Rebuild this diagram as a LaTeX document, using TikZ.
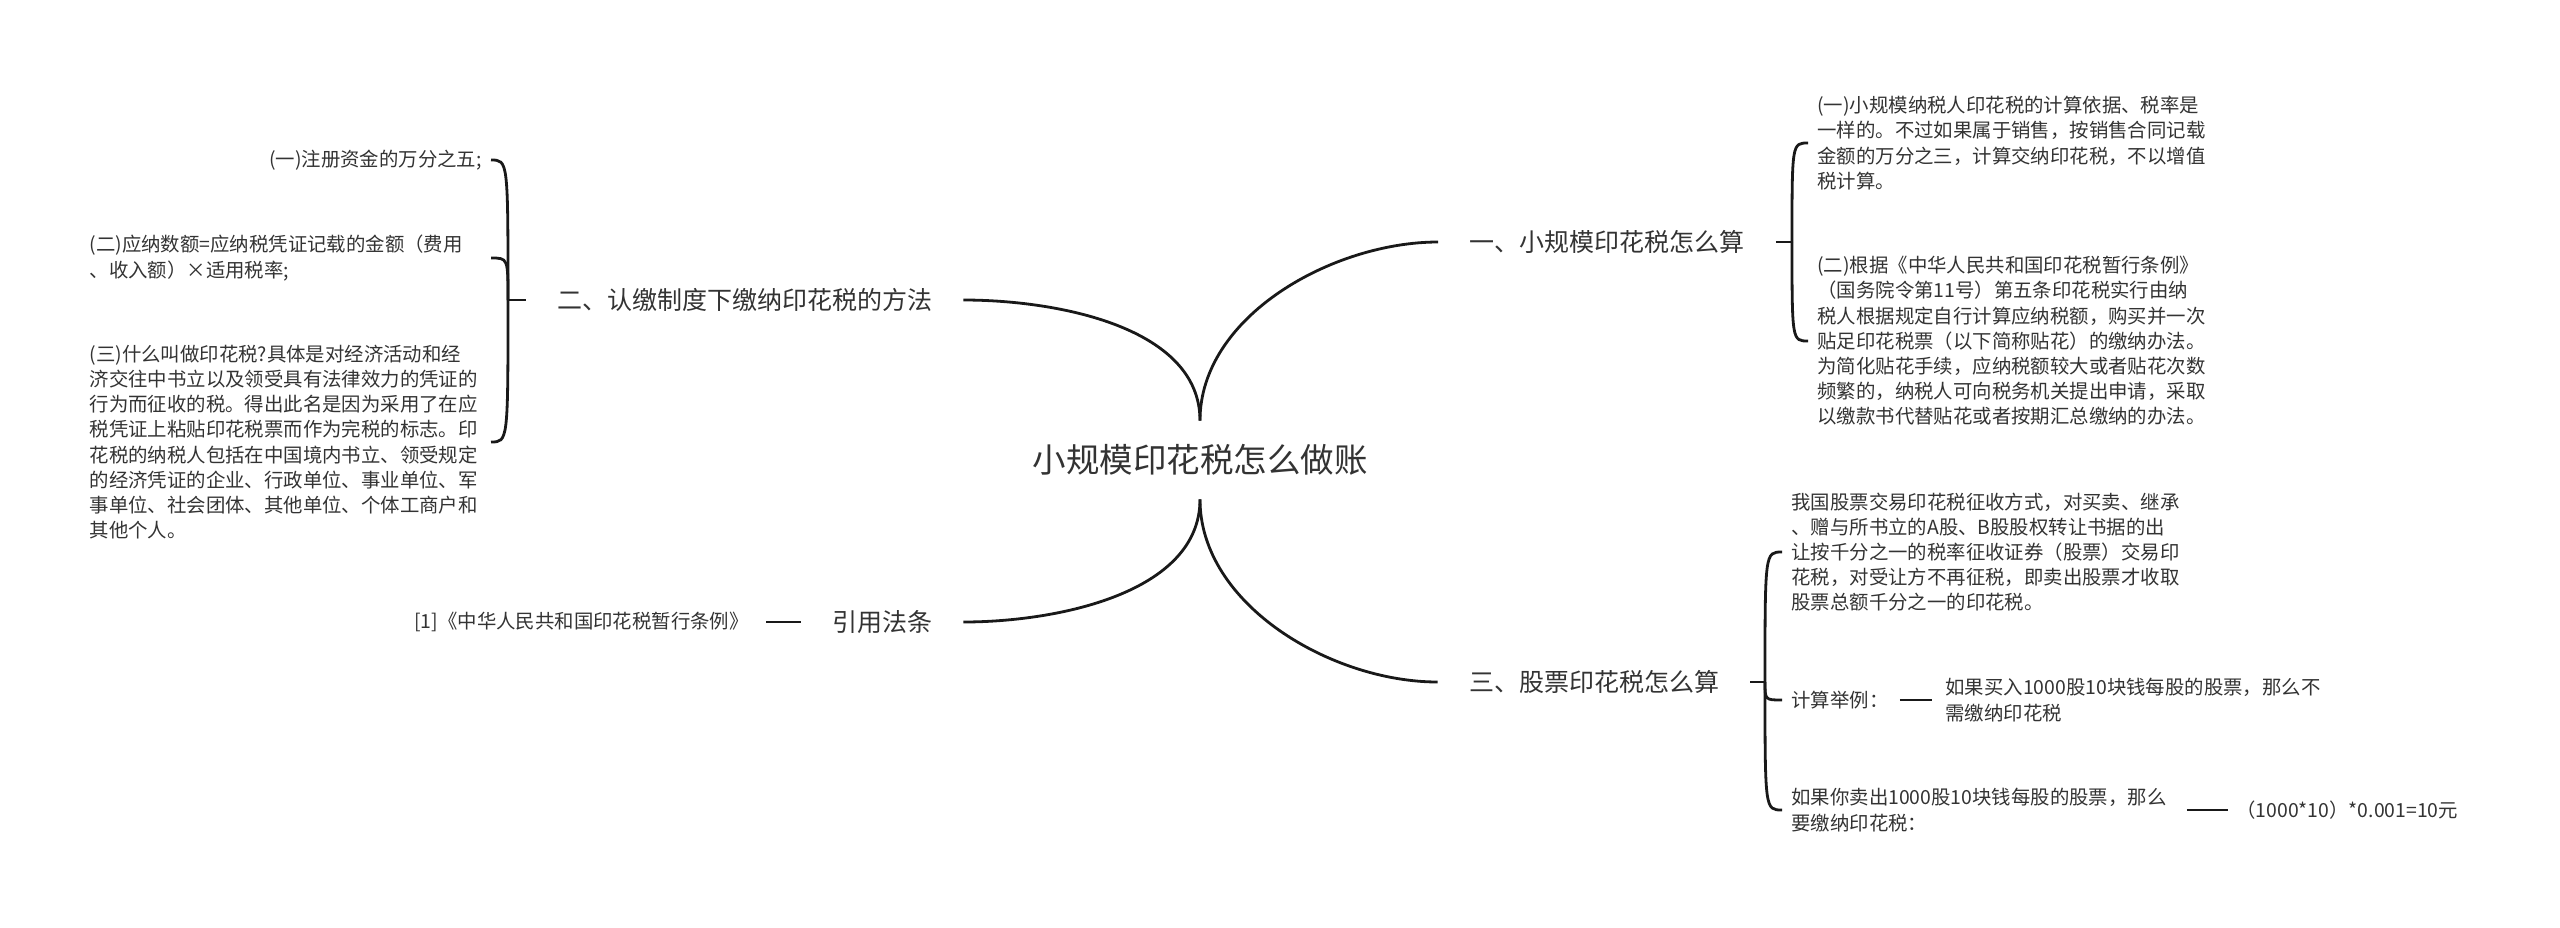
\documentclass[tikz,border=0pt]{standalone}
\usepackage{fontspec}
\setmainfont{Noto Sans CJK SC}
\definecolor{inkc}{HTML}{333333}
\begin{document}
\begin{tikzpicture}[x=0.5pt, y=-0.5pt]
        \tikzstyle{every node}=[inner sep=0pt, text=inkc]
        \tikzstyle{topic}=[font=\fontsize{16.75pt}{20pt}\selectfont, minimum height=39pt]
        \tikzstyle{branch}=[font=\fontsize{12.5pt}{15pt}\selectfont, inner xsep=15.5pt]
        \tikzstyle{leaf}=[font=\fontsize{9.7pt}{12.6pt}\selectfont, align=left]
        \tikzstyle{wide}=[leaf, text width=196pt]
        \tikzstyle{link}=[draw=black!90, line width=1.4pt]
        \useasboundingbox (0,0) rectangle (2560,927);
        \node [topic] (root) at (1200,460) {小规模印花税怎么做账};
        \node [branch] (b1) at (1607,242) {一、小规模印花税怎么算};
        \node [branch] (b2) at (744.5,300) {二、认缴制度下缴纳印花税的方法};
        \node [branch] (b3) at (1594,682) {三、股票印花税怎么算};
        \node [branch] (b4) at (882,622) {引用法条};
        \coordinate (b1j) at (1792,242);
        \coordinate (b2j) at (508,300);
        \coordinate (b3j) at (1765,682);
        \node [leaf, anchor=west] (l1a) at (1817,143) {(一)小规模纳税人印花税的计算依据、税率是\\一样的。不过如果属于销售，按销售合同记载\\金额的万分之三，计算交纳印花税，不以增值\\税计算。};
        \node [leaf, anchor=west] (l1b) at (1817,341) {(二)根据《中华人民共和国印花税暂行条例》\\（国务院令第11号）第五条印花税实行由纳\\税人根据规定自行计算应纳税额，购买并一次\\贴足印花税票（以下简称贴花）的缴纳办法。\\为简化贴花手续，应纳税额较大或者贴花次数\\频繁的，纳税人可向税务机关提出申请，采取\\以缴款书代替贴花或者按期汇总缴纳的办法。};
        \node [leaf, anchor=east] (l2a) at (482,160) {(一)注册资金的万分之五;};
        \node [wide, anchor=east] (l2b) at (482,258) {(二)应纳数额=应纳税凭证记载的金额（费用\\、收入额）×适用税率;};
        \node [wide, anchor=east] (l2c) at (482,442) {(三)什么叫做印花税?具体是对经济活动和经\\济交往中书立以及领受具有法律效力的凭证的\\行为而征收的税。得出此名是因为采用了在应\\税凭证上粘贴印花税票而作为完税的标志。印\\花税的纳税人包括在中国境内书立、领受规定\\的经济凭证的企业、行政单位、事业单位、军\\事单位、社会团体、其他单位、个体工商户和\\其他个人。};
        \node [leaf, anchor=west] (l3a) at (1791,552) {我国股票交易印花税征收方式，对买卖、继承\\、赠与所书立的A股、B股股权转让书据的出\\让按千分之一的税率征收证券（股票）交易印\\花税，对受让方不再征税，即卖出股票才收取\\股票总额千分之一的印花税。};
        \node [leaf, anchor=west] (l3b) at (1791,700) {计算举例：};
        \node [leaf, anchor=west] (l3b2) at (1945,700) {如果买入1000股10块钱每股的股票，那么不\\需缴纳印花税};
        \node [leaf, anchor=west] (l3c) at (1791,810) {如果你卖出1000股10块钱每股的股票，那么\\要缴纳印花税：};
        \node [leaf, anchor=west] (l3c2) at (2236,810) {（1000*10）*0.001=10元};
        \node [leaf, anchor=east] (l4) at (749,622) {[1]《中华人民共和国印花税暂行条例》};
        \draw [link] (root.north) to[out=90,in=180,looseness=0.9] (b1.west);
        \draw [link] (root.north) to[out=90,in=0,looseness=0.9] (b2.east);
        \draw [link] (root.south) to[out=-90,in=180,looseness=0.9] (b3.west);
        \draw [link] (root.south) to[out=-90,in=0,looseness=0.9] (b4.east);
        \draw [link] (b1.east) -- (b1j);
        \draw [link] (b2.west) -- (b2j);
        \draw [link] (b3.east) -- (b3j);
        \draw [link] (b1j) .. controls (b1j |- l1a.west) .. ([xshift=-4.5pt]l1a.west);
        \draw [link] (b1j) .. controls (b1j |- l1b.west) .. ([xshift=-4.5pt]l1b.west);
        \draw [link] (b2j) .. controls (b2j |- l2a.east) .. ([xshift=4.5pt]l2a.east);
        \draw [link] (b2j) .. controls (b2j |- l2b.east) .. ([xshift=4.5pt]l2b.east);
        \draw [link] (b2j) .. controls (b2j |- l2c.east) .. ([xshift=4.5pt]l2c.east);
        \draw [link] (b3j) .. controls (b3j |- l3a.west) .. ([xshift=-4.5pt]l3a.west);
        \draw [link] (b3j) .. controls (b3j |- l3b.west) .. ([xshift=-4.5pt]l3b.west);
        \draw [link] (b3j) .. controls (b3j |- l3c.west) .. ([xshift=-4.5pt]l3c.west);
        \draw [link] (b4.west) -- ([xshift=8.5pt]l4.east);
        \draw [link] ([xshift=5.5pt]l3b.east) -- ([xshift=-6.5pt]l3b2.west);
        \draw [link] ([xshift=10pt]l3c.east) -- ([xshift=-4pt]l3c2.west);
\end{tikzpicture}
\end{document}
